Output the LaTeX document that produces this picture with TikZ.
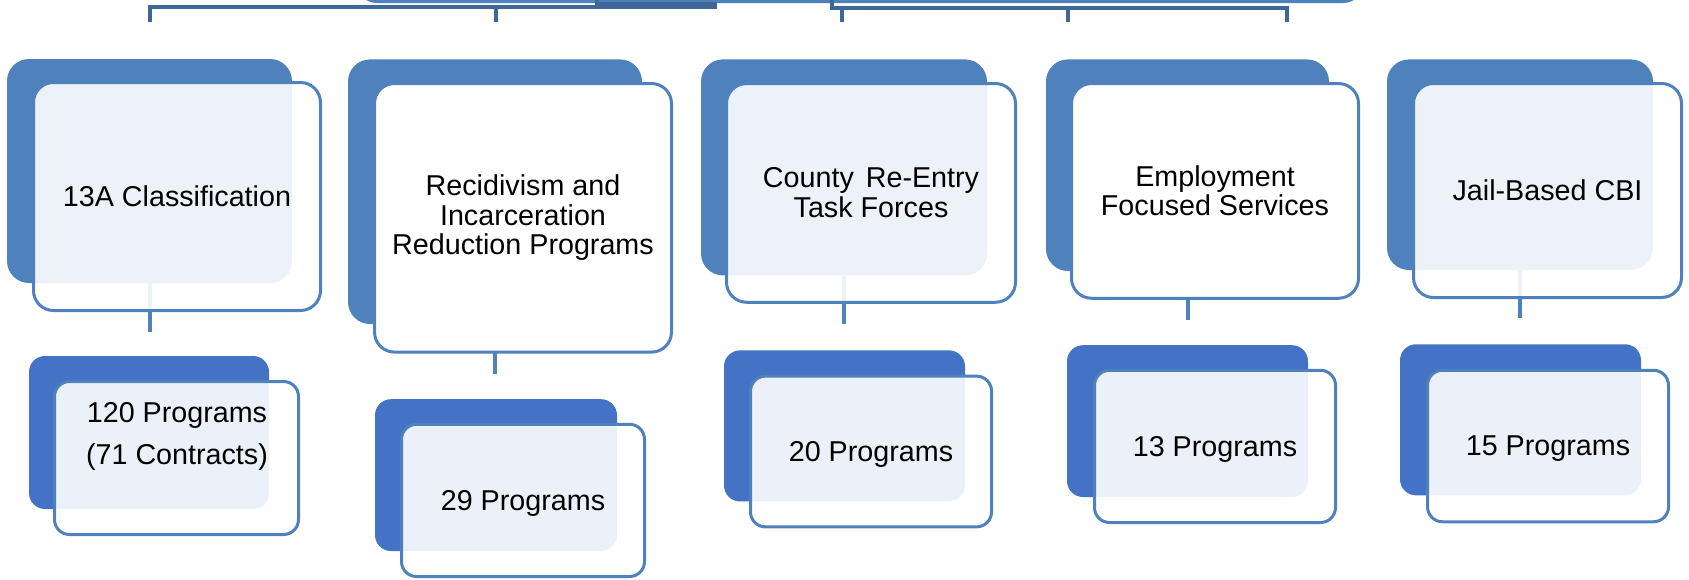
\documentclass[tikz,border=0pt]{standalone}
\usepackage{fontspec}
\setmainfont{Liberation Sans}
\definecolor{topblue}{HTML}{4F81BD}
\definecolor{botblue}{HTML}{4472C4}
\definecolor{edgeblue}{HTML}{4F81BD}
\definecolor{brkblue}{HTML}{3F6798}
\begin{document}
\begin{tikzpicture}[x=1pt,y=-1pt,
  backtop/.style={fill=topblue, draw=none, rounded corners=22pt, inner sep=0pt},
  backbot/.style={fill=botblue, draw=none, rounded corners=16pt, inner sep=0pt},
  fronttop/.style={draw=edgeblue, line width=3pt, fill=white, fill opacity=0.9, text opacity=1,
     rounded corners=20pt, inner sep=0pt, align=center, font=\fontsize{28.7}{29.6}\selectfont},
  frontsolid/.style={fronttop, fill opacity=1},
  frontbot/.style={fronttop, rounded corners=15pt, text depth=0pt},
  lbl/.style={inner sep=0pt, align=center, font=\fontsize{28.7}{42}\selectfont},
  conn/.style={draw=edgeblue, line width=4pt},
  bracket/.style={draw=brkblue, line width=4pt},
  parentbox/.style={draw=edgeblue, line width=3pt, rounded corners=20pt, inner sep=0pt}]
\useasboundingbox (0,0) rectangle (1689,579);

% partially visible parent box and bracket
\node[parentbox, minimum width=1006pt, minimum height=80pt] (P) at (860,-38.5) {};
\coordinate (d1) at (149.5,22);
\coordinate (d2) at (495.5,22);
\coordinate (d3) at (842,22);
\coordinate (d4) at (1068,22);
\coordinate (d5) at (1287,22);
\coordinate (L0) at (149.5,7);
\coordinate (L1) at (715,7);
\coordinate (L2) at (715,3.5);
\coordinate (L3) at (597,3.5);
\coordinate (L4) at (597,0);
\coordinate (R0) at (832,0);
\coordinate (R1) at (832,8);
\coordinate (R2) at (1287,8);
\draw[bracket] (d1) -- (L0) -- (L1) -- (L2) -- (L3) -- (L4);
\draw[bracket] (d2) -- (d2 |- L0);
\draw[bracket] (R0) -- (R1) -- (R2) -- (d5);
\draw[bracket] (d3) -- (d3 |- R1);
\draw[bracket] (d4) -- (d4 |- R1);

% back boxes, top row
\node[backtop, minimum width=285pt, minimum height=224pt] (B1) at (149.5,171) {};
\node[backtop, minimum width=294pt, minimum height=264.6pt] (B2) at (495,191.7) {};
\node[backtop, minimum width=286pt, minimum height=216pt] (B3) at (844,167.4) {};
\node[backtop, minimum width=283pt, minimum height=211.6pt] (B4) at (1187.5,165.2) {};
\node[backtop, minimum width=266pt, minimum height=210.6pt] (B5) at (1520,164.7) {};

% back boxes, bottom row
\node[backbot, minimum width=240pt, minimum height=153pt] (b1) at (149,432.5) {};
\node[backbot, minimum width=242pt, minimum height=151.8pt] (b2) at (496,475.1) {};
\node[backbot, minimum width=241pt, minimum height=151.1pt] (b3) at (844.5,425.9) {};
\node[backbot, minimum width=241pt, minimum height=151.8pt] (b4) at (1187.5,421.1) {};
\node[backbot, minimum width=241pt, minimum height=151.1pt] (b5) at (1520.5,419.8) {};

% connectors
\coordinate (c1) at (149.5,332);
\coordinate (c2) at (495,374);
\coordinate (c3) at (844,324);
\coordinate (c4) at (1187.5,320);
\coordinate (c5) at (1520,318);
\draw[conn] (B1.south) -- (c1);
\draw[conn] (B2.south) -- (c2);
\draw[conn] (B3.south) -- (c3);
\draw[conn] (B4.south) -- (c4);
\draw[conn] (B5.south) -- (c5);

% front boxes, top row
\node[fronttop, minimum width=287pt, minimum height=228pt] (F1) at (177,196.5) {13A Classification};
\node[frontsolid, minimum width=297pt, minimum height=268.6pt] (F2) at (523,217.8) {Recidivism and\\Incarceration\\Reduction Programs};
\node[fronttop, minimum width=289pt, minimum height=218.7pt] (F3) at (871,192.9) {County\hspace{4pt} Re-Entry\\Task Forces};
\node[frontsolid, minimum width=287pt, minimum height=214.7pt] (F4) at (1215,190.9) {Employment\\Focused Services};
\node[fronttop, minimum width=268pt, minimum height=214pt] (F5) at (1547.5,190.5) {Jail-Based CBI};

% front boxes, bottom row
\node[frontbot, minimum width=244pt, minimum height=153pt] (f1) at (176.5,458) {};
\node[lbl] (T1) at (177,436.5) {120 Programs\\(71 Contracts)};
\node[frontbot, minimum width=243pt, minimum height=152.2pt] (f2) at (523,500.4) {29 Programs};
\node[frontbot, minimum width=241pt, minimum height=150.8pt] (f3) at (871,451.5) {20 Programs};
\node[frontbot, minimum width=241pt, minimum height=152.2pt] (f4) at (1215,446.4) {13 Programs};
\node[frontbot, minimum width=241pt, minimum height=151.5pt] (f5) at (1548,446) {15 Programs};
\end{tikzpicture}
\end{document}
